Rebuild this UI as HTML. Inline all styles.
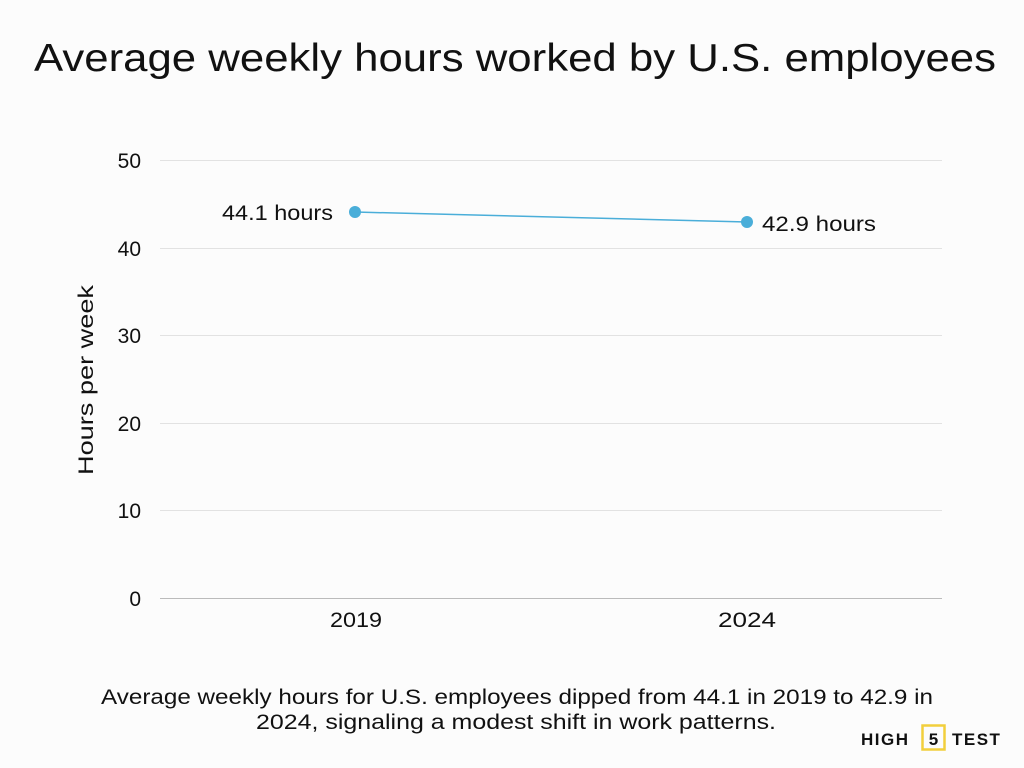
<!DOCTYPE html>
<html><head><meta charset="utf-8"><style>
html,body{margin:0;padding:0;background:#fcfcfc;}
svg{display:block;}
text{font-family:"Liberation Sans",sans-serif;fill:#111;}
</style></head><body>
<svg width="1024" height="768" viewBox="0 0 1024 768" xmlns="http://www.w3.org/2000/svg">
<rect width="1024" height="768" fill="#fcfcfc"/>
<text x="515" y="71" font-size="39" text-anchor="middle" textLength="962" lengthAdjust="spacingAndGlyphs">Average weekly hours worked by U.S. employees</text>
<g stroke="#e2e2e2" stroke-width="1">
<line x1="160" y1="160.5" x2="942" y2="160.5"/>
<line x1="160" y1="248.5" x2="942" y2="248.5"/>
<line x1="160" y1="335.5" x2="942" y2="335.5"/>
<line x1="160" y1="423.5" x2="942" y2="423.5"/>
<line x1="160" y1="510.5" x2="942" y2="510.5"/>
</g>
<line x1="160" y1="598.5" x2="942" y2="598.5" stroke="#bbb" stroke-width="1"/>
<g font-size="21" text-anchor="end">
<text x="141" y="168">50</text>
<text x="141" y="256">40</text>
<text x="141" y="343">30</text>
<text x="141" y="431">20</text>
<text x="141" y="518">10</text>
<text x="141" y="606">0</text>
</g>
<g font-size="21" text-anchor="middle">
<text x="356" y="627" textLength="52" lengthAdjust="spacingAndGlyphs">2019</text>
<text x="747" y="627" textLength="58" lengthAdjust="spacingAndGlyphs">2024</text>
</g>
<text transform="translate(93,380) rotate(-90)" font-size="21" text-anchor="middle" textLength="190" lengthAdjust="spacingAndGlyphs">Hours per week</text>
<line x1="355" y1="212" x2="747" y2="222" stroke="#4aaed9" stroke-width="1.5"/>
<circle cx="355" cy="212" r="6" fill="#4aaed9"/>
<circle cx="747" cy="222" r="6" fill="#4aaed9"/>
<text x="222" y="220" font-size="21" textLength="111" lengthAdjust="spacingAndGlyphs">44.1 hours</text>
<text x="762" y="231" font-size="21" textLength="114" lengthAdjust="spacingAndGlyphs">42.9 hours</text>
<text x="517" y="704" font-size="21" text-anchor="middle" textLength="832" lengthAdjust="spacingAndGlyphs">Average weekly hours for U.S. employees dipped from 44.1 in 2019 to 42.9 in</text>
<text x="516" y="729" font-size="21" text-anchor="middle" textLength="520" lengthAdjust="spacingAndGlyphs">2024, signaling a modest shift in work patterns.</text>
<g font-size="17" font-weight="bold">
<text x="861" y="745" style="letter-spacing:1.5px">HIGH</text>
<rect x="922.5" y="725.5" width="22" height="24" fill="none" stroke="#f2cf3c" stroke-width="2.5"/>
<text x="933.5" y="745" text-anchor="middle">5</text>
<text x="952" y="745" style="letter-spacing:1.5px">TEST</text>
</g>
</svg>
</body></html>
